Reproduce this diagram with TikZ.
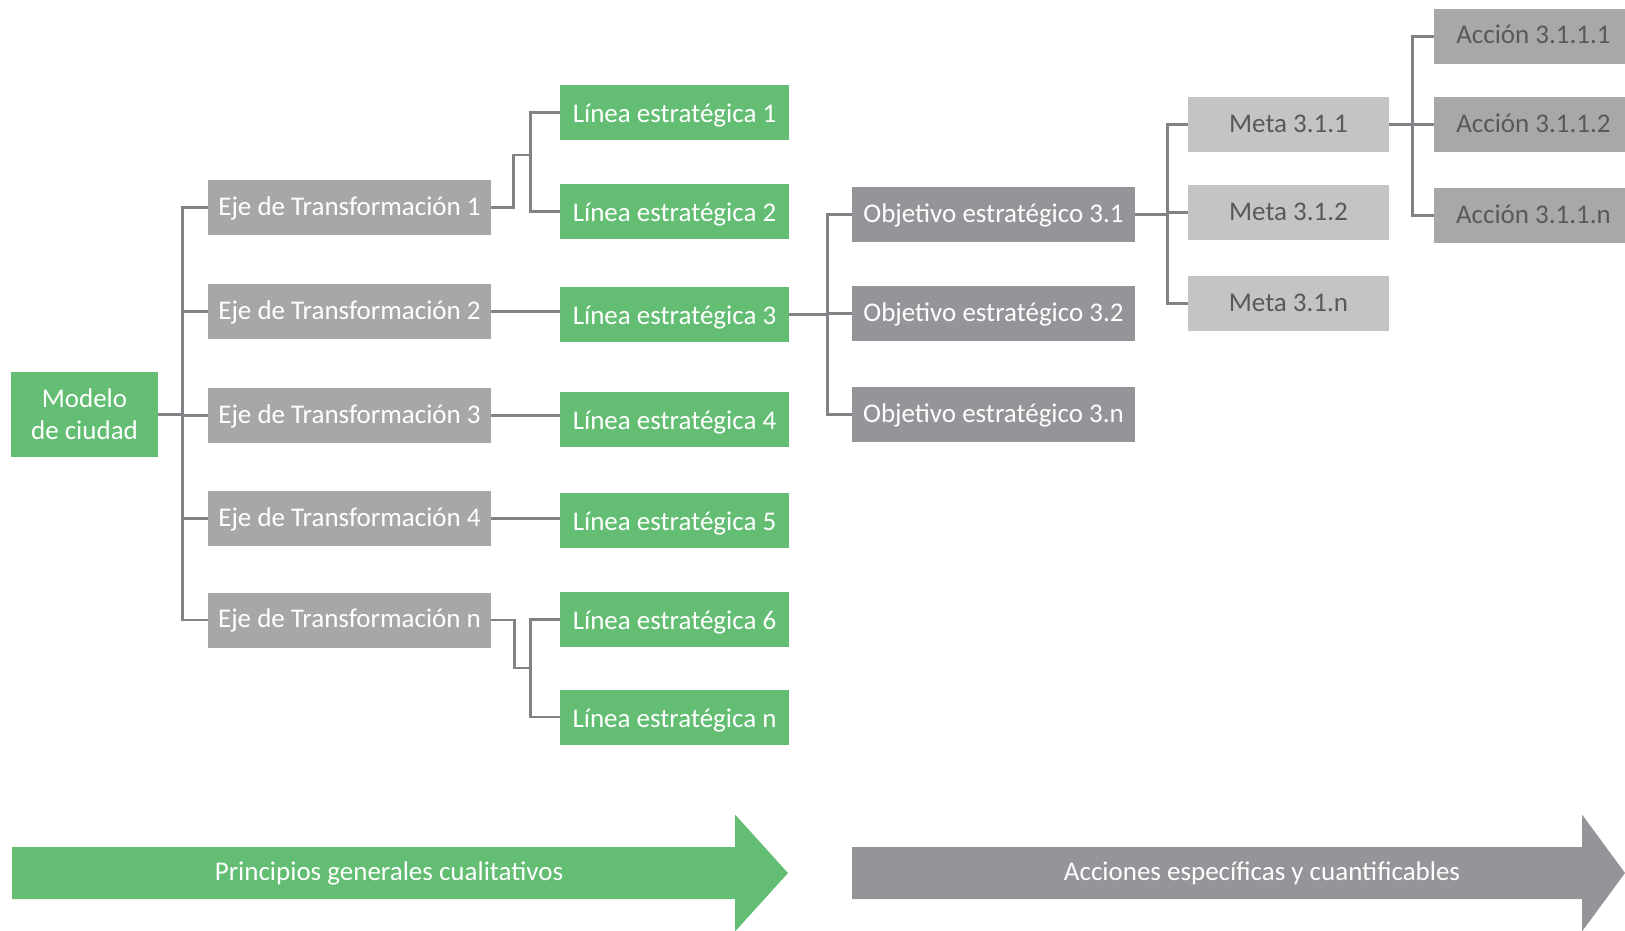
\documentclass[tikz,border=0pt]{standalone}
\usepackage{fontspec}
\setmainfont{Carlito}
\usepackage{tikz}
\usetikzlibrary{calc,positioning,arrows}
\definecolor{verde}{HTML}{63BE74}
\definecolor{gris}{HTML}{A6A7A9}
\definecolor{grisobj}{HTML}{939598}
\definecolor{grismeta}{HTML}{C4C4C4}
\definecolor{grisacc}{HTML}{A7A8AA}
\definecolor{textogris}{HTML}{58595B}
\definecolor{linea}{HTML}{808285}

\begin{document}
\begin{tikzpicture}[
x=1pt,y=-1pt,
box/.style={
  draw=none,
  inner sep=0pt,
  minimum height=55pt,
  text height=20pt,
  text depth=5pt,
  text=white,
  font=\fontsize{27}{32}\selectfont
  },
modelo/.style={draw=none, fill=verde, inner sep=0pt, text=white, align=center,
  minimum width=147pt, minimum height=85pt, font=\fontsize{27}{32}\selectfont},
eje/.style={box, fill=gris, minimum width=283pt},
lin/.style={box, fill=verde, minimum width=229pt, text height=23pt, text depth=3pt},
obj/.style={box, fill=grisobj, minimum width=283pt, text height=21pt, text depth=5pt},
meta/.style={box, fill=grismeta, minimum width=201pt, text=textogris},
acc/.style={box, fill=grisacc, minimum width=199pt, text=textogris},
flecha/.style={text=white, inner sep=0pt, font=\fontsize{27}{32}\selectfont},
link/.style={draw=linea, line width=2.6pt},
>=latex
]
\useasboundingbox (0,0) rectangle (1625,931);
% columna 1 y 2
\node[modelo] (mod) at (84.5,414.5) {Modelo\\de ciudad};
\node[eje] (eje1) at (349.5,207.5) {Eje de Transformación 1};
\node[eje] (eje2) at (349.5,311.5) {Eje de Transformación 2};
\node[eje] (eje3) at (349.5,415.5) {Eje de Transformación 3};
\node[eje] (eje4) at (349.5,518.5) {Eje de Transformación 4};
\node[eje] (ejen) at (349.5,620) {Eje de Transformación n};
% lineas estrategicas
\node[lin] (lin1) at (674.5,112.5) {Línea estratégica 1};
\node[lin] (lin2) at (674.5,211.5) {Línea estratégica 2};
\node[lin] (lin3) at (674.5,314.5) {Línea estratégica 3};
\node[lin] (lin4) at (674.5,419.5) {Línea estratégica 4};
\node[lin] (lin5) at (674.5,520) {Línea estratégica 5};
\node[lin] (lin6) at (674.5,619.5) {Línea estratégica 6};
\node[lin] (linn) at (674.5,717) {Línea estratégica n};
% objetivos, metas, acciones
\node[obj] (obj1) at (993.5,214.5) {Objetivo estratégico 3.1};
\node[obj] (obj2) at (993.5,313.5) {Objetivo estratégico 3.2};
\node[obj] (objn) at (993.5,414.5) {Objetivo estratégico 3.n};
\node[meta] (meta1) at (1288.5,124.5) {Meta 3.1.1};
\node[meta] (meta2) at (1288.5,212.5) {Meta 3.1.2};
\node[meta] (metan) at (1288.5,303.5) {Meta 3.1.n};
\node[acc] (acc1) at (1533.5,36.5) {Acción 3.1.1.1};
\node[acc] (acc2) at (1533.5,124.5) {Acción 3.1.1.2};
\node[acc] (accn) at (1533.5,215.5) {Acción 3.1.1.n};

  \draw[link] (mod.east) -- ++(24,0) |- (eje1.west);
  \draw[link] (mod.east) -- ++(24,0) |- (eje2.west);
  \draw[link] (mod.east) -- ++(24,0) |- (eje3.west);
  \draw[link] (mod.east) -- ++(24,0) |- (eje4.west);
  \draw[link] (mod.east) -- ++(24,0) |- (ejen.west);
   \draw[link] (eje1.east) -- ++(22,0) |- ++(17,-52.5) coordinate (b1) |- (lin1.west);
   \draw[link] (b1) |- (lin2.west);
   \draw[link] (eje2.east) -- (eje2.east -| lin3.west);
   \draw[link] (eje3.east) -- (eje3.east -| lin4.west);
   \draw[link] (eje4.east) -- (eje4.east -| lin5.west);
   \draw[link] (ejen.east) -- ++(23,0) |- ++(16,48) coordinate (bn) |- (lin6.west);
   \draw[link] (bn) |- (linn.west);
      \draw[link] (lin3.east) -- ++(38,0) |- (obj1.west);
      \draw[link] (lin3.east) -- ++(38,0) |- (obj2.west);
      \draw[link] (lin3.east) -- ++(38,0) |- (objn.west);
        \draw[link] (obj1.east) -- ++(32,0) |- (meta1.west);
        \draw[link] (obj1.east) -- ++(32,0) |- (meta2.west);
        \draw[link] (obj1.east) -- ++(32,0) |- (metan.west);
          \draw[link] (meta1.east) -- ++(23,0) |- (acc1.west);
          \draw[link] (meta1.east) -- ++(23,0) |- (acc2.west);
          \draw[link] (meta1.east) -- ++(23,0) |- (accn.west);
% flechas de abajo
\fill[verde] (12,847) -- (735,847) -- (735,814.5) -- (788,873) -- (735,931.5) -- (735,899) -- (12,899) -- cycle;
\node[flecha] (prin) at (389,873) {Principios generales cualitativos};
\fill[grisobj] (852,847) -- (1582,847) -- (1582,814.5) -- (1625,873) -- (1582,931.5) -- (1582,899) -- (852,899) -- cycle;
\node[flecha] (acci) at (1262,873) {Acciones específicas y cuantificables};
\end{tikzpicture}
\end{document}
